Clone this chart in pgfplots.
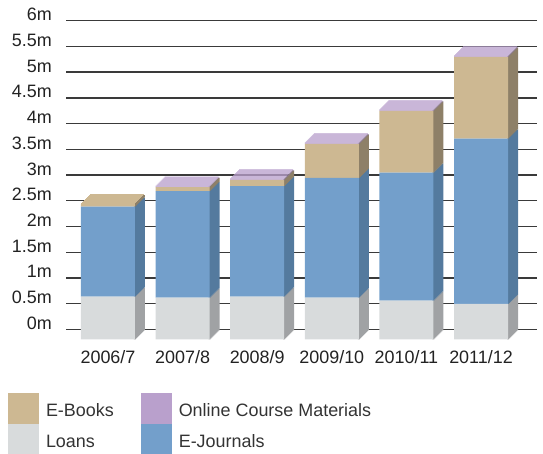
\documentclass[border=0pt]{standalone}
\usepackage{pgfplots}
\pgfplotsset{compat=1.18}
\usepackage{pgfplotstable}
\usepackage{fontspec}
\setmainfont{Liberation Sans}

\definecolor{loansF}{HTML}{D8DBDC}
\definecolor{loansS}{HTML}{A0A2A4}
\definecolor{ejF}{HTML}{739FCB}
\definecolor{ejS}{HTML}{547A9E}
\definecolor{ebF}{HTML}{CDB892}
\definecolor{ebS}{HTML}{8E8068}
\definecolor{ocmF}{HTML}{B9A0CC}
\definecolor{ocmS}{HTML}{8A7898}
\definecolor{gridc}{HTML}{3A3A3A}
\definecolor{txt}{HTML}{222222}

% values in millions (stack order: Loans, E-Journals, E-Books, Online Course Materials)
\pgfplotstableread{
x loans ejournals ebooks ocm
0 0.83 1.75 0.05 0.00
1 0.81 2.07 0.08 0.01
2 0.83 2.15 0.12 0.01
3 0.81 2.33 0.66 0.01
4 0.75 2.49 1.20 0.01
5 0.69 3.21 1.59 0.01
}\datatable
% 1bp-thick cap used to paint the top face of each 3D bar (tan when no course materials)
\pgfplotstableread{
x captan cappurple
0 0.0194 0
1 0 0.0194
2 0 0.0194
3 0 0.0194
4 0 0.0194
5 0 0.0194
}\captable

\pgfplotsset{
  base/.style={
    x=74.6bp, y=51.43bp,
    xmin=-0.697, xmax=5.617, ymin=0, ymax=6,
    clip=false, anchor=south west,
  },
  copy/.style={base, hide axis, ybar stacked, bar width=54bp},
}

\begin{document}
\begin{tikzpicture}
\useasboundingbox (0,0) rectangle (543bp,454bp);

% background: grid, labels, legend
\begin{axis}[base, at={(66bp,124.7bp)},
  axis line style={draw=none},
  major tick length=0pt,
  ymajorgrids, grid style={line width=1.3bp, gridc},
  ytick={0,0.5,1,1.5,2,2.5,3,3.5,4,4.5,5,5.5,6},
  yticklabels={0m,0.5m,1m,1.5m,2m,2.5m,3m,3.5m,4m,4.5m,5m,5.5m,6m},
  xtick={0,1,2,3,4,5},
  xticklabels={2006/7,2007/8,2008/9,2009/10,2010/11,2011/12},
  tick label style={font=\fontsize{18}{21}\selectfont, text=txt, inner sep=0pt},
  yticklabel style={anchor=base east, xshift=-14bp},
  xticklabel style={anchor=base, xshift=-10bp, yshift=-34bp},
  legend columns=2, legend cell align=left,
  legend image code/.code={\path[#1] (0bp,-13.5bp) rectangle (31bp,17.5bp);},
  legend style={at={(-0.1231,-0.2074)}, anchor=north west, draw=none, fill=none,
    inner sep=0pt, outer sep=0pt, row sep=0pt, column sep=0pt,
    font=\fontsize{18}{21}\selectfont, text=black!80,
    nodes={inner sep=0pt},
    /tikz/every odd column/.append style={column sep=7bp},
    /tikz/every even column/.append style={column sep=27bp}},
]
\addlegendimage{fill=ebF, draw=none}
\addlegendentry{E-Books}
\addlegendimage{fill=ocmF, draw=none}
\addlegendentry{Online Course Materials}
\addlegendimage{fill=loansF, draw=none}
\addlegendentry{Loans}
\addlegendimage{fill=ejF, draw=none}
\addlegendentry{E-Journals}
\end{axis}

% depth: side faces and top faces, back to front
\foreach \s in {9,8,...,0}{
  \pgfmathsetmacro{\px}{66+\s-10}
  \pgfmathsetmacro{\py}{124.7+\s-10}
  \begin{axis}[copy, at={(\px bp,\py bp)}]
    \addplot[bar shift=27bp, bar width=2bp, fill=loansS, draw=none] table[x=x,y=loans]{\datatable};
    \addplot[bar shift=27bp, bar width=2bp, fill=ejS, draw=none] table[x=x,y=ejournals]{\datatable};
    \addplot[bar shift=27bp, bar width=2bp, fill=ebS, draw=none] table[x=x,y=ebooks]{\datatable};
    \addplot[bar shift=27bp, bar width=2bp, fill=ocmS, draw=none] table[x=x,y=ocm]{\datatable};
    \addplot[fill=ebF, draw=none] table[x=x,y=captan]{\captable};
    \addplot[fill=ocmF, draw=none] table[x=x,y=cappurple]{\captable};
  \end{axis}
}

% front faces
\begin{axis}[copy, at={(56bp,114.7bp)}]
  \addplot[fill=loansF, draw=none] table[x=x,y=loans]{\datatable};
  \addplot[fill=ejF, draw=none] table[x=x,y=ejournals]{\datatable};
  \addplot[fill=ebF, draw=none] table[x=x,y=ebooks]{\datatable};
  \addplot[fill=ocmF, draw=none] table[x=x,y=ocm]{\datatable};
\end{axis}
\end{tikzpicture}
\end{document}
